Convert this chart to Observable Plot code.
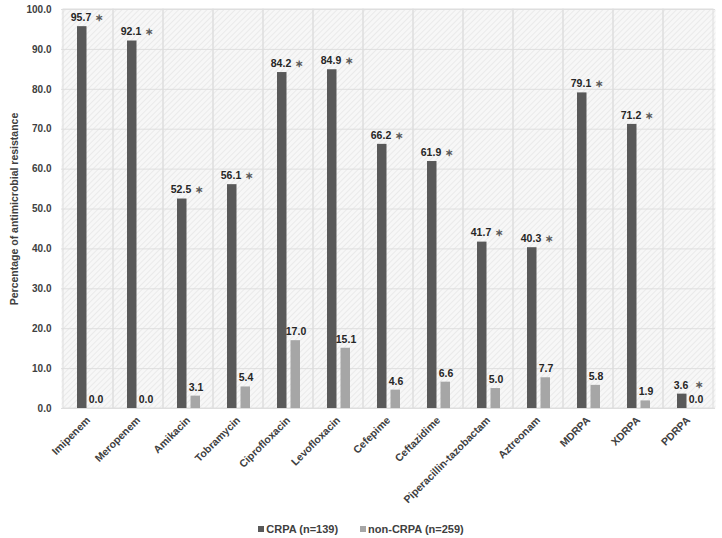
<!DOCTYPE html>
<html>
<head>
<meta charset="utf-8">
<script src="https://cdn.jsdelivr.net/npm/d3@7"></script>
<script src="https://cdn.jsdelivr.net/npm/@observablehq/plot@0.6"></script>
<style>
  html, body { margin: 0; padding: 0; background: #fff; }
  body { width: 722px; height: 538px; font-family: "Liberation Sans", Arial, sans-serif; }
  #legend { display: flex; justify-content: center; gap: 22px; font-weight: bold; font-size: 11px; color: #404040; margin-top: 15px; }
  #legend span.sw { display: inline-block; width: 6px; height: 6px; margin-right: 2px; vertical-align: 1px; }
</style>
</head>
<body>
<div id="chart"></div>
<div id="legend"></div>
<script>
const categories = ["Imipenem", "Meropenem", "Amikacin", "Tobramycin", "Ciprofloxacin", "Levofloxacin", "Cefepime", "Ceftazidime", "Piperacillin-tazobactam", "Aztreonam", "MDRPA", "XDRPA", "PDRPA"];
const crpa = [95.7, 92.1, 52.5, 56.1, 84.2, 84.9, 66.2, 61.9, 41.7, 40.3, 79.1, 71.2, 3.6];
const nonCrpa = [0.0, 0.0, 3.1, 5.4, 17.0, 15.1, 4.6, 6.6, 5.0, 7.7, 5.8, 1.9, 0.0];
const seriesNames = ["CRPA (n=139)", "non-CRPA (n=259)"];
const yTicks = [0, 10, 20, 30, 40, 50, 60, 70, 80, 90, 100];

const dataA = categories.map((c, i) => ({cat: c, v: crpa[i]}));
const dataB = categories.map((c, i) => ({cat: c, v: nonCrpa[i]}));
const dark = "#595959", light = "#a6a6a6";

const plot = Plot.plot({
  width: 722,
  height: 508,
  marginLeft: 61,
  marginRight: 7,
  marginTop: 9,
  marginBottom: 100,
  style: {fontFamily: "'Liberation Sans', Arial, sans-serif", fontWeight: "bold", color: "#404040", background: "transparent"},
  x: {domain: categories, padding: 0},
  y: {domain: [0, 100]},
  marks: [
    Plot.frame({fill: "url(#hatch)", stroke: "none"}),
    Plot.ruleY(yTicks, {stroke: "#dedede", strokeWidth: 1}),
    Plot.barY(categories, {x: d => d, y1: 0, y2: 100, fill: "none", stroke: "#dedede", strokeWidth: 1}),
    Plot.barY(dataA, {x: "cat", y: "v", fill: dark, insetLeft: 14, insetRight: 26.5}),
    Plot.barY(dataB, {x: "cat", y: "v", fill: light, insetLeft: 27.5, insetRight: 13}),
    Plot.text(dataA, {x: "cat", y: "v", text: d => d.v.toFixed(1), dx: -7.5, dy: -9, fontSize: 10.5, fontWeight: "bold", fill: "#262626"}),
    Plot.text(dataA, {x: "cat", y: "v", text: d => "∗", dx: 10, dy: -9, fontSize: 10, fontWeight: "bold", fill: "#595959"}),
    Plot.text(dataB, {x: "cat", y: "v", text: d => d.v.toFixed(1), dx: 7.5, dy: -9, fontSize: 10.5, fontWeight: "bold", fill: "#262626"}),
    Plot.axisY({ticks: yTicks, tickFormat: d => d.toFixed(1), tickSize: 0, tickPadding: 10, fontSize: 10, label: null}),
    Plot.axisY({ticks: [], tickSize: 0, fontSize: 10.5, label: "Percentage of antimicrobial resistance", labelAnchor: "center", labelArrow: "none", labelOffset: 51}),
    Plot.axisX({tickRotate: -45, tickSize: 0, tickPadding: 10, fontSize: 10.5, label: null})
  ]
});

const ns = "http://www.w3.org/2000/svg";
const defs = document.createElementNS(ns, "defs");
defs.innerHTML = `<pattern id="hatch" patternUnits="userSpaceOnUse" width="4" height="4" patternTransform="rotate(45)">
  <rect width="4" height="4" fill="#f7f7f7"/>
  <line x1="0" y1="0" x2="0" y2="4" stroke="#e6e6e6" stroke-width="1.5"/>
</pattern>`;
plot.insertBefore(defs, plot.firstChild);
document.getElementById("chart").appendChild(plot);

const lg = document.getElementById("legend");
[dark, light].forEach((col, i) => {
  const s = document.createElement("span");
  s.innerHTML = `<span class="sw" style="background:${col}"></span>${seriesNames[i]}`;
  lg.appendChild(s);
});
</script>
</body>
</html>
